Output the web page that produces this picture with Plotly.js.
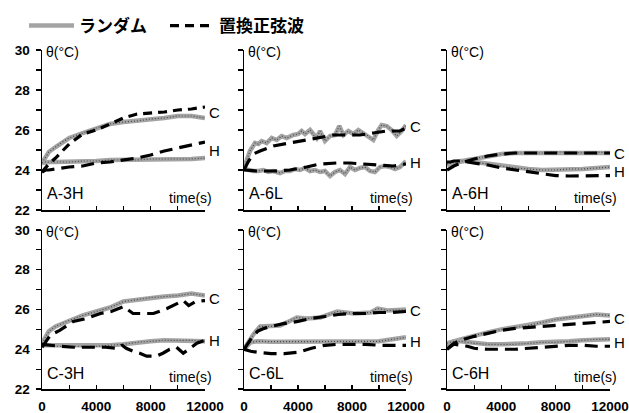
<!DOCTYPE html>
<html>
<head>
<meta charset="utf-8">
<script src="https://cdn.plot.ly/plotly-3.0.1.min.js"></script>
<style>html,body{margin:0;padding:0;background:#fff;}</style>
</head>
<body>
<div id="chart" style="width:629px;height:413px;"></div>
<script>
// ---------- data ----------
const seriesNames = ['ランダム', '置換正弦波'];
const panelLabels = ['A-3H', 'A-6L', 'A-6H', 'C-3H', 'C-6L', 'C-6H'];
const xTickVals = [0, 4000, 8000, 12000];
const T = [0,250,500,1000,1500,2000,3000,4000,5000,6000,7000,8000,9000,10000,11000,12000];

// A-3H
const a3h_randC = [24.35,24.65,24.9,25.15,25.4,25.6,25.85,26.1,26.3,26.4,26.45,26.55,26.6,26.7,26.7,26.6];
const a3h_sineC = [23.9,24.1,24.3,24.6,24.95,25.3,25.8,26.0,26.3,26.6,26.8,26.85,26.9,27.0,27.05,27.15];
const a3h_randH = [24.35,24.4,24.4,24.4,24.4,24.4,24.45,24.45,24.5,24.5,24.5,24.55,24.55,24.55,24.55,24.6];
const a3h_sineH = [23.9,24.0,24.0,24.05,24.1,24.15,24.2,24.35,24.4,24.5,24.6,24.75,24.95,25.1,25.25,25.4];

// A-6L
const a6l_randC_t = [0,440,815,1060,1310,1680,2050,2420,2790,3160,3650,4020,4270,4520,4890,5140,5380,5630,6000,6370,6740,7060,7360,7730,8100,8470,8840,9210,9580,9950,10200,10570,10940,11310,11680,12000];
const a6l_randC = [24.1,24.95,25.35,25.3,25.45,25.35,25.6,25.5,25.7,25.6,25.75,25.8,25.95,25.8,26.0,25.75,25.6,25.95,25.45,25.7,25.75,26.2,25.75,25.95,25.8,26.0,25.85,25.7,25.5,26.0,26.25,26.2,26.0,25.7,25.95,26.25];
const a6l_sineC_t = [0,300,690,1190,2170,3400,4640,5630,6620,7600,8590,9580,10570,11550,12000];
const a6l_sineC = [24.0,24.4,24.8,24.95,25.2,25.35,25.5,25.65,25.75,25.75,25.75,25.85,25.95,25.95,26.1];
const a6l_randH_t = [0,320,690,1060,1430,1800,2170,2670,3040,3400,3780,4150,4520,4890,5260,5630,6000,6370,6740,7110,7480,7850,8220,8590,8960,9330,9700,10070,10450,10810,11190,11550,12000];
const a6l_randH = [24.05,24.0,23.95,23.95,24.0,23.9,23.95,23.85,23.95,23.95,24.05,24.0,24.1,23.95,24.0,23.9,23.95,23.7,23.9,24.0,23.8,24.15,24.0,24.1,24.15,23.95,23.9,24.15,24.2,24.15,24.05,24.15,24.45];
const a6l_sineH_t = [0,940,2170,3400,4640,5630,6860,7850,8840,10070,11060,12000];
const a6l_sineH = [24.0,23.95,23.95,24.0,24.15,24.3,24.35,24.35,24.3,24.25,24.2,24.3];

// A-6H
const a6h_randC = [24.25,24.3,24.3,24.4,24.5,24.55,24.7,24.8,24.85,24.85,24.85,24.9,24.9,24.85,24.9,24.85];
const a6h_sineC = [24.0,24.1,24.2,24.35,24.45,24.55,24.7,24.8,24.85,24.85,24.85,24.85,24.85,24.85,24.85,24.85];
const a6h_randH = [24.3,24.35,24.4,24.45,24.45,24.4,24.3,24.2,24.1,24.05,24.0,24.0,24.05,24.05,24.1,24.15];
const a6h_sineH = [24.4,24.4,24.45,24.45,24.4,24.35,24.25,24.1,24.0,23.9,23.8,23.72,23.7,23.7,23.7,23.72];

// C-3H
const c3h_randC = [24.3,24.6,24.9,25.15,25.3,25.45,25.7,25.9,26.1,26.4,26.5,26.6,26.65,26.7,26.8,26.7];
const c3h_sineC_t = [0,600,1300,2300,3300,4300,5100,6000,6400,6700,7200,8200,9200,9900,10400,10800,11300,12000];
const c3h_sineC = [24.1,24.7,24.95,25.4,25.55,25.8,25.9,26.15,25.95,25.8,25.8,25.8,26.05,26.3,26.45,26.2,26.4,26.45];
const c3h_randH = [24.2,24.2,24.2,24.15,24.15,24.15,24.15,24.15,24.2,24.25,24.35,24.4,24.45,24.45,24.45,24.4];
const c3h_sineH_t = [0,600,1300,2300,3500,4700,5500,5900,6200,6700,7200,7700,8400,8900,9400,9900,10400,10900,11400,12000];
const c3h_sineH = [24.25,24.2,24.15,24.1,24.1,24.1,24.05,24.2,24.05,23.9,23.8,23.65,23.65,23.8,24.0,24.1,23.8,24.05,24.3,24.45];

// C-6L
const c6l_randC_t = [0,700,1190,1940,2680,3180,3920,4670,5660,6900,8150,9390,9890,10630,12000];
const c6l_randC = [24.0,24.75,25.15,25.15,25.2,25.35,25.6,25.55,25.6,25.9,25.8,25.85,26.05,25.95,26.0];
const c6l_sineC = [24.0,24.25,24.5,24.9,25.05,25.15,25.3,25.4,25.55,25.65,25.75,25.8,25.8,25.85,25.85,25.9];
const c6l_randH = [24.0,24.2,24.35,24.4,24.38,24.38,24.38,24.38,24.38,24.38,24.38,24.38,24.38,24.4,24.5,24.6];
const c6l_sineH = [24.0,23.95,23.9,23.85,23.8,23.78,23.78,23.85,24.05,24.2,24.25,24.25,24.25,24.2,24.2,24.2];

// C-6H
const c6h_randC = [24.2,24.3,24.4,24.5,24.6,24.7,24.85,25.0,25.1,25.2,25.35,25.5,25.6,25.65,25.75,25.7];
const c6h_sineC = [24.0,24.15,24.3,24.45,24.55,24.65,24.8,24.95,25.05,25.1,25.15,25.2,25.25,25.3,25.35,25.4];
const c6h_randH = [24.3,24.35,24.4,24.4,24.35,24.3,24.25,24.25,24.25,24.3,24.35,24.35,24.4,24.45,24.5,24.5];
const c6h_sineH = [24.0,24.15,24.25,24.2,24.15,24.05,24.0,24.0,24.0,24.05,24.1,24.15,24.2,24.2,24.15,24.15];

// ---------- panels ----------
const panels = [
  {rC:[T,a3h_randC], sC:[T,a3h_sineC], rH:[T,a3h_randH], sH:[T,a3h_sineH]},
  {rC:[a6l_randC_t,a6l_randC], sC:[a6l_sineC_t,a6l_sineC], rH:[a6l_randH_t,a6l_randH], sH:[a6l_sineH_t,a6l_sineH]},
  {rC:[T,a6h_randC], sC:[T,a6h_sineC], rH:[T,a6h_randH], sH:[T,a6h_sineH]},
  {rC:[T,c3h_randC], sC:[c3h_sineC_t,c3h_sineC], rH:[T,c3h_randH], sH:[c3h_sineH_t,c3h_sineH]},
  {rC:[c6l_randC_t,c6l_randC], sC:[T,c6l_sineC], rH:[T,c6l_randH], sH:[T,c6l_sineH]},
  {rC:[T,c6h_randC], sC:[T,c6h_sineC], rH:[T,c6h_randH], sH:[T,c6h_sineH]}
];

const W = 629, H = 413;
const colDom = [[42/W, 205/W], [244/W, 406/W], [447/W, 610/W]];
const rowDom = [[(H-210)/H, (H-50)/H], [(H-389)/H, (H-230)/H]];

const TXT = "'Liberation Sans', Arial, sans-serif";
const TICKF = {family: "'Liberation Sans', Arial, sans-serif", size: 13.5, color: '#000', weight: 'bold'};
const LEGF = {family: "'Noto Sans CJK JP', sans-serif", size: 17, color: '#000', weight: 'bold'};

const traces = [];
const layout = {
  width: W, height: H,
  margin: {l: 0, r: 0, t: 0, b: 0},
  paper_bgcolor: '#fff', plot_bgcolor: '#fff',
  showlegend: true,
  legend: {orientation: 'h', x: 24/W, xanchor: 'left', y: 1 - 8/H, yanchor: 'top',
    font: LEGF, itemwidth: 45, bgcolor: 'rgba(0,0,0,0)'},
  legend2: {orientation: 'h', x: 165/W, xanchor: 'left', y: 1 - 8/H, yanchor: 'top',
    font: LEGF, itemwidth: 44, bgcolor: 'rgba(0,0,0,0)'},
  annotations: []
};

function avg(a, b) { return (a[a.length-1] + b[b.length-1]) / 2; }

panels.forEach((p, i) => {
  const s = i === 0 ? '' : String(i + 1);
  const row = Math.floor(i / 3), col = i % 3;
  const xa = 'x' + s, ya = 'y' + s;
  const grayBand = {color: '#a4a4a4', width: 4.5};
  const grayDots = {color: '#4a4a4a', width: 1.2, dash: '1px,2px'};
  const blackDash = {color: '#000', width: 3.2, dash: '13px,7px'};
  [p.rC, p.rH].forEach((d, k) => {
    traces.push({x: d[0], y: d[1], xaxis: xa, yaxis: ya, mode: 'lines', line: grayBand,
      name: seriesNames[0], legend: 'legend', showlegend: (i === 0 && k === 0), hoverinfo: 'skip'});
    traces.push({x: d[0], y: d[1], xaxis: xa, yaxis: ya, mode: 'lines', line: grayDots,
      name: seriesNames[0], showlegend: false, hoverinfo: 'skip'});
  });
  [p.sC, p.sH].forEach((d, k) => {
    traces.push({x: d[0], y: d[1], xaxis: xa, yaxis: ya, mode: 'lines',
      line: (i === 0 && k === 0) ? {color: '#000', width: 3.2, dash: '9px,6px'} : blackDash,
      name: seriesNames[1], legend: 'legend2', showlegend: (i === 0 && k === 0), hoverinfo: 'skip'});
  });

  layout['xaxis' + s] = {
    domain: colDom[col], anchor: ya, range: [0, 12000],
    showline: true, linecolor: '#000', linewidth: 1.5,
    ticks: 'inside', ticklen: 4, tickwidth: 1.2, tickcolor: '#000',
    tickmode: 'array', tickvals: xTickVals, ticktext: xTickVals.map(String),
    minor: {tickmode: 'linear', tick0: 0, dtick: 2000, ticks: 'inside', ticklen: 4, tickwidth: 1.2, tickcolor: '#000'},
    showticklabels: row === 1, tickfont: TICKF, ticklabelstandoff: 4, ticklabeloverflow: 'allow',
    showgrid: false, zeroline: false, fixedrange: true
  };
  layout['yaxis' + s] = {
    domain: rowDom[row], anchor: xa, range: [22, 30],
    showline: true, linecolor: '#000', linewidth: 1.5,
    ticks: 'outside', ticklen: 5, tickwidth: 1.2, tickcolor: '#000',
    tick0: 22, dtick: 2,
    minor: {tick0: 22, dtick: 1, ticks: 'outside', ticklen: 5, tickwidth: 1.2, tickcolor: '#000'},
    showticklabels: col === 0, tickfont: TICKF, ticklabelstandoff: 3, ticklabeloverflow: 'allow',
    showgrid: false, zeroline: false, fixedrange: true
  };

  const A = layout.annotations;
  A.push({text: 'θ(°C)', xref: xa + ' domain', yref: ya + ' domain', x: 0, y: 1, xanchor: 'left', yanchor: 'middle',
    xshift: 2, yshift: -2, showarrow: false, font: {family: TXT, size: 14, color: '#000'}});
  A.push({text: panelLabels[i], xref: xa + ' domain', yref: ya + ' domain', x: 0, y: 0, xanchor: 'left', yanchor: 'middle',
    xshift: 3, yshift: row === 0 ? 17 : 16, showarrow: false, font: {family: TXT, size: 16, color: '#000'}});
  A.push({text: 'time(s)', xref: xa + ' domain', yref: ya + ' domain', x: 1, y: 0, xanchor: 'right', yanchor: 'middle',
    xshift: 9, yshift: 12, showarrow: false, font: {family: TXT, size: 14, color: '#000'}});
  A.push({text: 'C', xref: xa, yref: ya, x: 12000, y: avg(p.rC[1], p.sC[1]), xanchor: 'left', yanchor: 'middle',
    xshift: 2, showarrow: false, font: {family: TXT, size: 15, color: '#000'}});
  A.push({text: 'H', xref: xa, yref: ya, x: 12000, y: avg(p.rH[1], p.sH[1]), xanchor: 'left', yanchor: 'middle',
    xshift: 2, showarrow: false, font: {family: TXT, size: 15, color: '#000'}});
});

Plotly.newPlot('chart', traces, layout, {staticPlot: true, displayModeBar: false});
</script>
</body>
</html>
